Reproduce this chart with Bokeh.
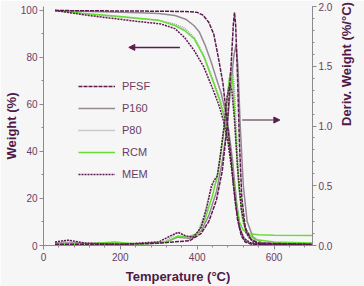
import math
from bokeh.plotting import figure
from bokeh.models import (Range1d, LinearAxis, Legend, LegendItem, Arrow, NormalHead,
                          FixedTicker, PrintfTickFormatter)
from bokeh.embed import file_html
from bokeh.resources import INLINE

# ---------------- data ----------------
series = ["PFSF", "P160", "P80", "RCM", "MEM"]

# TGA weight curves (left axis, %)
tga_pfsf_t = [30, 100, 200, 300, 380, 400, 415, 430, 443, 455, 467, 475, 485, 495, 505, 515, 525, 540, 560, 600, 700]
tga_pfsf_w = [100, 99.9, 99.8, 99.7, 99.5, 99.2, 98, 95, 90, 80, 69, 57, 42, 25, 11, 4, 1.5, 0.6, 0.3, 0.2, 0.2]

tga_p160_t = [30, 150, 250, 300, 342, 370, 392, 405, 420, 435, 450, 462, 472, 482, 492, 502, 512, 522, 540, 600, 700]
tga_p160_w = [100, 99.5, 99, 98.7, 97.9, 96.3, 93.5, 91, 85.5, 78.7, 71, 65, 58, 49, 36, 19, 7, 2.5, 0.8, 0.4, 0.3]

tga_p80_t = [30, 100, 200, 300, 342, 367, 392, 417, 442, 458, 470, 480, 490, 500, 510, 520, 535, 560, 700]
tga_p80_w = [100, 98.6, 97.2, 95.8, 94.2, 92.5, 88.5, 81, 70, 63, 56, 48, 36, 20, 8, 3, 1.2, 0.6, 0.5]

tga_rcm_t = [30, 100, 200, 300, 342, 367, 392, 417, 442, 458, 470, 480, 490, 500, 510, 520, 535, 560, 600, 700]
tga_rcm_w = [100, 98.8, 97.4, 95.8, 93.6, 91.5, 88, 80.5, 69.5, 62, 55, 46, 34, 19, 10, 6.5, 5, 4.6, 4.4, 4.3]

tga_mem_t = [30, 117, 242, 305, 342, 367, 392, 417, 442, 458, 470, 480, 490, 500, 510, 522, 540, 560, 700]
tga_mem_w = [100, 97.9, 95.4, 94.3, 92.3, 88.5, 83, 76, 66, 59, 52, 44, 32, 17, 7.5, 3, 1, 0.5, 0.3]

# DTG derivative curves (right axis, %/°C)
dtg_pfsf_t = [30, 100, 200, 300, 380, 410, 430, 450, 465, 478, 488, 494, 497, 500, 505, 510, 516, 525, 540, 560, 700]
dtg_pfsf_d = [0.01, 0.01, 0.01, 0.02, 0.04, 0.1, 0.2, 0.38, 0.62, 1.0, 1.5, 1.85, 1.95, 1.85, 1.4, 0.85, 0.4, 0.15, 0.05, 0.02, 0.01]

dtg_p160_t = [30, 80, 150, 250, 320, 350, 380, 410, 430, 450, 465, 478, 488, 495, 501, 506, 512, 520, 530, 545, 570, 700]
dtg_p160_d = [0.02, 0.02, 0.01, 0.01, 0.03, 0.07, 0.06, 0.12, 0.25, 0.45, 0.7, 1.0, 1.35, 1.58, 1.68, 1.5, 1.0, 0.5, 0.2, 0.07, 0.02, 0.01]

dtg_p80_t = [30, 60, 100, 185, 250, 310, 345, 355, 378, 400, 418, 430, 440, 450, 458, 468, 478, 486, 491, 496, 502, 510, 520, 535, 560, 700]
dtg_p80_d = [0.02, 0.04, 0.02, 0.02, 0.01, 0.02, 0.1, 0.11, 0.05, 0.1, 0.25, 0.4, 0.5, 0.53, 0.7, 0.95, 1.25, 1.45, 1.5, 1.35, 0.95, 0.45, 0.18, 0.06, 0.02, 0.01]

dtg_rcm_t = [30, 100, 185, 250, 320, 350, 375, 400, 420, 440, 455, 468, 478, 484, 488, 493, 500, 508, 518, 530, 550, 600, 700]
dtg_rcm_d = [0.01, 0.01, 0.03, 0.01, 0.03, 0.08, 0.07, 0.1, 0.22, 0.42, 0.62, 0.92, 1.22, 1.4, 1.45, 1.35, 0.95, 0.5, 0.22, 0.1, 0.05, 0.03, 0.02]

dtg_mem_t = [30, 65, 110, 200, 300, 330, 350, 370, 390, 410, 425, 437, 445, 452, 460, 470, 478, 485, 490, 497, 505, 515, 528, 545, 570, 700]
dtg_mem_d = [0.03, 0.045, 0.02, 0.01, 0.03, 0.08, 0.11, 0.08, 0.07, 0.15, 0.32, 0.5, 0.55, 0.58, 0.75, 1.0, 1.25, 1.35, 1.3, 1.05, 0.65, 0.3, 0.1, 0.03, 0.01, 0.01]

x_ticks = [0, 200, 400, 600]
y_left_ticks = [0, 20, 40, 60, 80, 100]
y_right_ticks = [0.0, 0.5, 1.0, 1.5, 2.0]

x_title = "Temperature (°C)"
y_left_title = "Weight (%)"
y_right_title = "Deriv. Weight (%/°C)"

# arrows (pointing to the respective axes)
arrow_left = dict(x_start=355, x_end=222, y=84.3)
arrow_right = dict(x_start=517, x_end=615, y=1.05)

# ---------------- styling ----------------
DARK = "#5c1a4f"
GRAY1 = "#948a93"
GRAY2 = "#a39aa1"
GREEN = "#66dd33"
TXT = "#6a3d63"
TITLE = "#4f1a47"
AXIS = "#8c8a8c"
BG = "#f6f6f6"
FONT = "Liberation Sans"

styles = {
    "PFSF": dict(color=DARK, dash="4 1"),
    "P160": dict(color=GRAY1, dash="solid"),
    "P80": dict(color=GRAY2, dash="1 1"),
    "RCM": dict(color=GREEN, dash="solid"),
    "MEM": dict(color=DARK, dash="2 1"),
}

p = figure(width=364, height=286, output_backend="svg", toolbar_location=None,
           x_range=Range1d(0, 700), y_range=Range1d(0, 101.7),
           min_border_left=43, min_border_right=42, min_border_top=6, min_border_bottom=41)
p.background_fill_color = BG
p.border_fill_color = BG
p.outline_line_color = None
p.grid.visible = False

p.extra_y_ranges = {"dtg": Range1d(0, 2.0)}
right = LinearAxis(y_range_name="dtg")
p.add_layout(right, "right")


def style_axis(ax, ticks, minor):
    ax.ticker = FixedTicker(ticks=ticks, minor_ticks=minor)
    ax.axis_line_color = AXIS
    ax.axis_line_width = 1
    ax.major_tick_line_color = AXIS
    ax.minor_tick_line_color = AXIS
    ax.major_tick_out = 4
    ax.major_tick_in = 0
    ax.minor_tick_out = 2
    ax.minor_tick_in = 0
    ax.major_label_text_font = FONT
    ax.major_label_text_font_size = "10px"
    ax.major_label_text_color = TXT
    ax.axis_label_text_font = FONT
    ax.axis_label_text_font_size = "13px"
    ax.axis_label_text_font_style = "bold"
    ax.axis_label_text_color = TITLE


xax = p.xaxis[0]
yax = p.yaxis[0]
style_axis(xax, x_ticks, [x for x in range(0, 701, 40)])
style_axis(yax, y_left_ticks, [y for y in range(0, 101, 10)])
style_axis(right, y_right_ticks, [round(v * 0.1, 1) for v in range(0, 21)])
right.formatter = PrintfTickFormatter(format="%.1f")
xax.axis_label = x_title
xax.major_label_standoff = 3
xax.axis_label_standoff = 5
yax.axis_label = y_left_title
yax.major_label_standoff = 2
yax.axis_label_standoff = -1
right.axis_label = y_right_title
right.major_label_standoff = 2
right.axis_label_standoff = 11
right.axis_label_orientation = math.pi / 2
right.axis_label_text_align = "center"
right.axis_label_text_baseline = "middle"

tga = {
    "PFSF": (tga_pfsf_t, tga_pfsf_w), "P160": (tga_p160_t, tga_p160_w),
    "P80": (tga_p80_t, tga_p80_w), "RCM": (tga_rcm_t, tga_rcm_w), "MEM": (tga_mem_t, tga_mem_w),
}
dtg = {
    "PFSF": (dtg_pfsf_t, dtg_pfsf_d), "P160": (dtg_p160_t, dtg_p160_d),
    "P80": (dtg_p80_t, dtg_p80_d), "RCM": (dtg_rcm_t, dtg_rcm_d), "MEM": (dtg_mem_t, dtg_mem_d),
}

order = ["P80", "P160", "RCM", "MEM", "PFSF"]
legend_r = {}
for name in order:
    st = styles[name]
    t, w = tga[name]
    r = p.line(t, w, line_color=st["color"], line_width=1.5, line_dash=st["dash"])
    legend_r[name] = r
    t, d = dtg[name]
    p.line(t, d, line_color=st["color"], line_width=1.5, line_dash=st["dash"], y_range_name="dtg")

legend = Legend(items=[LegendItem(label=n, renderers=[legend_r[n]]) for n in series],
                location=(35, 61), orientation="vertical",
                glyph_width=37, glyph_height=20, label_height=20, spacing=2,
                padding=0, margin=0, label_standoff=7,
                border_line_alpha=0, background_fill_alpha=0,
                label_text_font=FONT, label_text_font_size="11px", label_text_color=TXT)
p.add_layout(legend, "center")

p.add_layout(Arrow(end=NormalHead(size=6, fill_color=DARK, line_color=DARK),
                   x_start=arrow_left["x_start"], y_start=arrow_left["y"],
                   x_end=arrow_left["x_end"], y_end=arrow_left["y"],
                   line_color=DARK, line_width=1.5))
p.add_layout(Arrow(end=NormalHead(size=6, fill_color=DARK, line_color=DARK),
                   x_start=arrow_right["x_start"], y_start=arrow_right["y"],
                   x_end=arrow_right["x_end"], y_end=arrow_right["y"],
                   y_range_name="dtg", line_color="#7a6675", line_width=1.5))

open("out.html", "w").write(file_html(p, INLINE))
